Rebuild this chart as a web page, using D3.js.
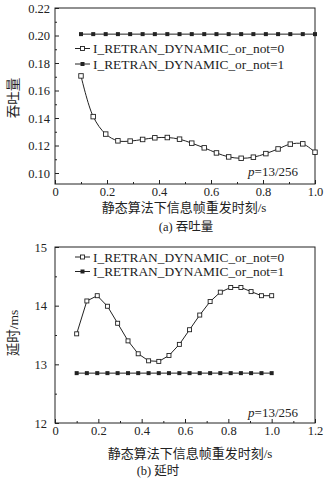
<!DOCTYPE html>
<html><head><meta charset="utf-8">
<script src="https://cdn.jsdelivr.net/npm/d3@7"></script>
<style>
html,body{margin:0;padding:0;background:#fff;}
svg{display:block;}
text{font-family:"Liberation Serif","Times New Roman","Noto Sans CJK SC",serif;fill:#222;}
</style></head>
<body>
<script>
// ---- data ----
const xValues = [0.1,0.147,0.195,0.242,0.289,0.337,0.384,0.432,0.479,0.526,0.574,0.621,0.668,0.716,0.763,0.811,0.858,0.905,0.953,1.0];
const throughputNot0 = [0.1706,0.141,0.1283,0.1234,0.1232,0.1244,0.1256,0.1258,0.1246,0.1217,0.1183,0.1146,0.1117,0.1107,0.1115,0.1141,0.1175,0.1210,0.1212,0.1151];
const throughputNot1 = [0.201,0.201,0.201,0.201,0.201,0.201,0.201,0.201,0.201,0.201,0.201,0.201,0.201,0.201,0.201,0.201,0.201,0.201,0.201,0.201];
const delayNot0 = [13.52,14.08,14.17,13.99,13.70,13.40,13.18,13.06,13.05,13.15,13.34,13.59,13.84,14.07,14.23,14.31,14.31,14.24,14.17,14.17];
const delayNot1 = [12.85,12.85,12.85,12.85,12.85,12.85,12.85,12.85,12.85,12.85,12.85,12.85,12.85,12.85,12.85,12.85,12.85,12.85,12.85,12.85];
const seriesNames = ["I_RETRAN_DYNAMIC_or_not=0","I_RETRAN_DYNAMIC_or_not=1"];
const xTicksA = [0,0.2,0.4,0.6,0.8,1.0];
const xTicksB = [0,0.2,0.4,0.6,0.8,1.0,1.2];
const yTicksA = [0.10,0.12,0.14,0.16,0.18,0.20,0.22];
const yTicksB = [12,13,14,15];
const xTitle = "静态算法下信息帧重发时刻/s";
const yTitleA = "吞吐量", yTitleB = "延时/ms";
const captionA = "(a) 吞吐量", captionB = "(b) 延时";

const svg = d3.select("body").append("svg").attr("width",328).attr("height",480);
const ink = "#222";

function panel(cfg){
  const g = svg.append("g");
  const x = d3.scaleLinear().domain(cfg.xDomain).range([55,315]);
  const y = d3.scaleLinear().domain(cfg.yDomain).range([cfg.bottom,cfg.top]);
  // frame
  g.append("rect").attr("x",55).attr("y",cfg.top).attr("width",260).attr("height",cfg.bottom-cfg.top)
    .attr("fill","none").attr("stroke",ink).attr("stroke-width",1);
  // bottom axis (inward ticks)
  const xa = g.append("g").attr("transform",`translate(0,${cfg.bottom})`)
    .call(d3.axisBottom(x).tickValues(cfg.xTicks).tickSize(-4).tickPadding(3).tickFormat(d=>d===0?"0":d3.format(".1f")(d)));
  const xm = g.append("g").attr("transform",`translate(0,${cfg.bottom})`)
    .call(d3.axisBottom(x).tickValues(cfg.xMinor).tickSize(-2).tickFormat(""));
  const ya = g.append("g").attr("transform","translate(55,0)")
    .call(d3.axisLeft(y).tickValues(cfg.yTicks).tickSize(-4).tickPadding(cfg.yPad).tickFormat(cfg.yFmt));
  const ym = g.append("g").attr("transform","translate(55,0)")
    .call(d3.axisLeft(y).tickValues(cfg.yMinor).tickSize(-2).tickFormat(""));
  [xa,xm,ya,ym].forEach(a=>{a.select(".domain").remove(); a.selectAll("line").attr("stroke",ink);
    a.selectAll("text").attr("font-size",12.5).attr("fill",ink).style("font-family","Liberation Serif");});
  // series
  const line0 = d3.line().x((d,i)=>x(xValues[i])).y(d=>y(d)).curve(cfg.curve);
  const line1 = d3.line().x((d,i)=>x(xValues[i])).y(d=>y(d));
  g.append("path").attr("d",line1(cfg.s1)).attr("fill","none").attr("stroke",ink).attr("stroke-width",1);
  g.append("path").attr("d",line0(cfg.s0)).attr("fill","none").attr("stroke",ink).attr("stroke-width",1);
  const ms0 = cfg.ms0, ms1 = 4;
  g.selectAll(".m1").data(cfg.s1).enter().append("rect")
    .attr("x",(d,i)=>x(xValues[i])-ms1/2).attr("y",d=>y(d)-ms1/2).attr("width",ms1).attr("height",ms1).attr("fill",ink);
  g.selectAll(".m0").data(cfg.s0).enter().append("rect")
    .attr("x",(d,i)=>x(xValues[i])-ms0/2).attr("y",d=>y(d)-ms0/2).attr("width",ms0).attr("height",ms0)
    .attr("fill","#fff").attr("stroke",ink).attr("stroke-width",0.9);
  // legend
  cfg.legY.forEach((ly,k)=>{
    g.append("line").attr("x1",75).attr("x2",90).attr("y1",ly).attr("y2",ly).attr("stroke",ink);
    if(k===0) g.append("rect").attr("x",82.5-2).attr("y",ly-2).attr("width",4).attr("height",4).attr("fill","#fff").attr("stroke",ink).attr("stroke-width",0.9);
    else g.append("rect").attr("x",82.5-2).attr("y",ly-2).attr("width",4).attr("height",4).attr("fill",ink);
    g.append("text").attr("x",93).attr("y",ly+4.5).attr("font-size",13.4).text(seriesNames[k]);
  });
  // p label
  const pt = g.append("text").attr("x",298).attr("y",cfg.pY).attr("text-anchor","end").attr("font-size",13);
  pt.append("tspan").attr("font-style","italic").text("p");
  pt.append("tspan").text("=13/256");
  // titles
  g.append("text").attr("x",cfg.xtX).attr("y",cfg.xtY).attr("text-anchor","middle").attr("font-size",13).text(xTitle);
  g.append("text").attr("x",cfg.capX).attr("y",cfg.capY).attr("text-anchor","middle").attr("font-size",12.5).text(cfg.caption);
  g.append("text").attr("transform",`translate(18,${cfg.ytY}) rotate(-90)`).attr("text-anchor","middle").attr("font-size",13.5).text(cfg.yTitle);
}

panel({xDomain:[0,1.0], yDomain:[0.092,0.22], top:8, bottom:184,
  xTicks:xTicksA, xMinor:[0.1,0.3,0.5,0.7,0.9],
  yTicks:yTicksA, yMinor:[0.11,0.13,0.15,0.17,0.19,0.21], yFmt:d3.format(".2f"), yPad:5,
  s0:throughputNot0, s1:throughputNot1, curve:d3.curveCatmullRom.alpha(0.5), ms0:4.5,
  legY:[48.5,64], pY:176, xtX:184, xtY:212, capX:186, capY:231, caption:captionA, ytY:98, yTitle:yTitleA});

panel({xDomain:[0,1.2], yDomain:[12,15], top:247, bottom:423,
  xTicks:xTicksB, xMinor:[0.1,0.3,0.5,0.7,0.9,1.1],
  yTicks:yTicksB, yMinor:[12.5,13.5,14.5], yFmt:d3.format("d"), yPad:8,
  s0:delayNot0, s1:delayNot1, curve:d3.curveLinear, ms0:4,
  legY:[257,271.5], pY:417, xtX:190, xtY:458, capX:158, capY:475, caption:captionB, ytY:333, yTitle:yTitleB});
</script>
</body></html>
